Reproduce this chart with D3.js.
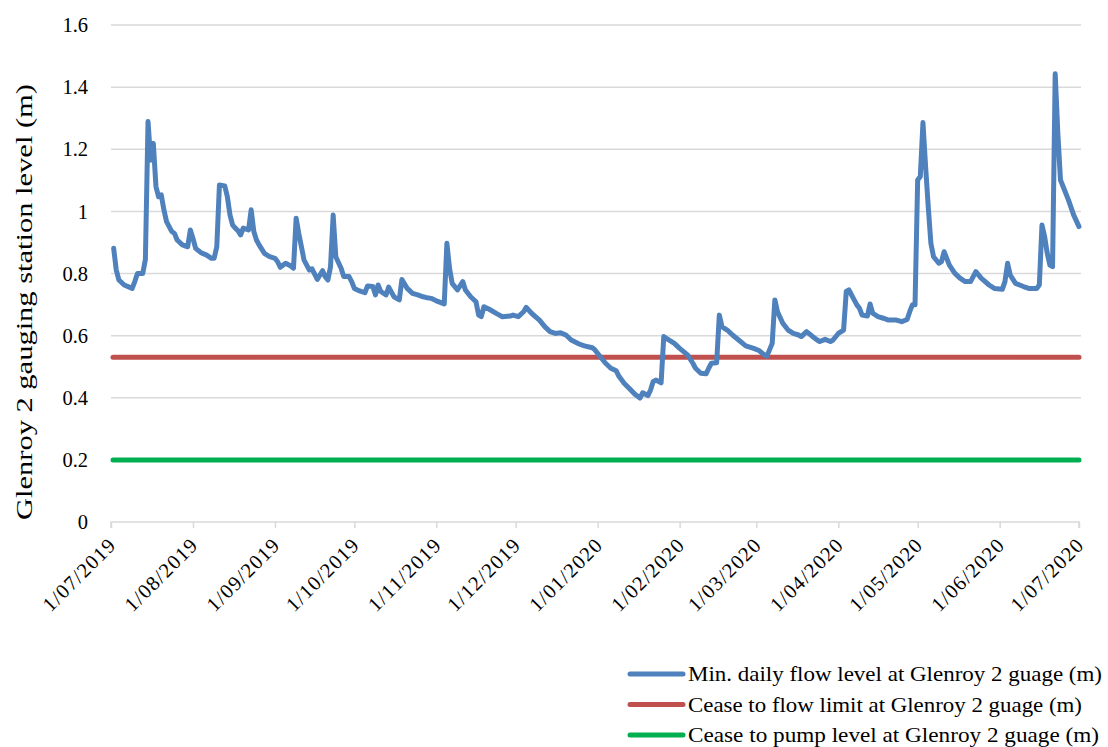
<!DOCTYPE html>
<html><head><meta charset="utf-8">
<script src="https://cdn.jsdelivr.net/npm/d3@7"></script>
<style>body{margin:0;background:#fff} text{font-family:"Liberation Serif",serif;fill:#000}</style>
</head><body><svg id="c" width="1108" height="747"></svg>
<script>
const startDate = "2019-07-01";
const endDate = "2020-07-01";
// days since 1/07/2019
const days = [1,2,3,5,8,9,10,12,13,14,15,16,17,18,19,20,21,23,24,25,27,29,30,31,32,34,36,38,39,40,41,43,44,45,46,47,48,49,50,52,53,54,55,56,58,60,62,63,64,66,68,69,70,71,73,75,76,78,80,81,82,83,84,85,87,88,90,91,92,94,96,97,99,100,101,102,104,105,107,109,110,112,114,116,118,119,121,123,126,127,128,129,131,133,134,136,138,139,140,141,143,146,148,151,152,154,156,157,159,162,164,166,168,170,172,174,177,179,182,183,185,187,189,191,192,194,196,198,200,201,203,204,205,206,208,209,210,213,215,218,220,221,223,225,226,227,229,230,231,232,233,235,238,240,243,245,247,248,250,251,252,254,256,258,260,261,263,265,267,268,270,272,273,275,277,278,279,281,282,283,284,286,287,288,290,292,294,297,299,301,302,303,304,305,306,307,308,309,310,311,313,314,315,317,319,321,323,325,327,329,332,334,337,338,339,340,342,345,347,350,351,352,353,354,355,356,357,358,359,362,364,366];
const levels = [0.881,0.811,0.779,0.763,0.752,0.774,0.80,0.80,0.845,1.289,1.165,1.219,1.08,1.047,1.053,1.005,0.967,0.935,0.929,0.908,0.892,0.886,0.94,0.913,0.881,0.867,0.86,0.849,0.849,0.886,1.085,1.082,1.047,0.988,0.956,0.946,0.938,0.924,0.946,0.94,1.005,0.935,0.908,0.892,0.865,0.854,0.849,0.838,0.82,0.833,0.824,0.817,0.978,0.929,0.843,0.811,0.815,0.781,0.809,0.79,0.779,0.822,0.988,0.854,0.817,0.79,0.79,0.774,0.752,0.744,0.738,0.76,0.758,0.731,0.763,0.742,0.731,0.756,0.725,0.715,0.781,0.752,0.736,0.731,0.725,0.723,0.72,0.712,0.702,0.897,0.817,0.768,0.747,0.774,0.747,0.725,0.709,0.666,0.661,0.693,0.685,0.67,0.661,0.663,0.666,0.661,0.677,0.691,0.672,0.65,0.629,0.613,0.607,0.609,0.602,0.586,0.573,0.567,0.561,0.554,0.532,0.511,0.495,0.487,0.47,0.447,0.43,0.412,0.399,0.416,0.407,0.425,0.452,0.457,0.448,0.597,0.591,0.575,0.559,0.538,0.511,0.495,0.479,0.477,0.495,0.511,0.513,0.666,0.629,0.623,0.618,0.602,0.581,0.567,0.559,0.552,0.538,0.534,0.575,0.715,0.677,0.64,0.618,0.607,0.602,0.597,0.613,0.599,0.586,0.581,0.588,0.581,0.586,0.607,0.618,0.742,0.747,0.715,0.699,0.688,0.666,0.663,0.702,0.672,0.661,0.656,0.65,0.65,0.645,0.652,0.677,0.699,0.699,1.101,1.112,1.286,1.144,1.015,0.897,0.854,0.833,0.838,0.87,0.827,0.801,0.785,0.774,0.774,0.806,0.785,0.763,0.752,0.749,0.774,0.833,0.795,0.768,0.758,0.752,0.752,0.763,0.956,0.919,0.865,0.827,0.822,1.443,1.251,1.101,1.037,0.988,0.951];
const ceaseFlowLevel = 0.53;
const ceasePumpLevel = 0.2;
const yTicks = [0,0.2,0.4,0.6,0.8,1,1.2,1.4,1.6];
const yTickLabels = ["0","0.2","0.4","0.6","0.8","1","1.2","1.4","1.6"];
const xTickDates = ["2019-07-01","2019-08-01","2019-09-01","2019-10-01","2019-11-01","2019-12-01","2020-01-01","2020-02-01","2020-03-01","2020-04-01","2020-05-01","2020-06-01","2020-07-01"];
const xTickLabels = ["1/07/2019","1/08/2019","1/09/2019","1/10/2019","1/11/2019","1/12/2019","1/01/2020","1/02/2020","1/03/2020","1/04/2020","1/05/2020","1/06/2020","1/07/2020"];
const seriesNames = ["Min. daily flow level at Glenroy 2 guage (m)","Cease to flow limit at Glenroy 2 guage (m)","Cease to pump level at Glenroy 2 guage (m)"];
const seriesColors = ["#4F81BD","#C0504D","#00B050"];
const yTitle = "Glenroy 2 gauging station level (m)";
const legendTextWidths = [414, 394, 411];

const svg = d3.select("#c");
const parse = d3.utcParse("%Y-%m-%d");
const t0 = parse(startDate), t1 = parse(endDate);
const x = d3.scaleUtc().domain([t0, t1]).range([111, 1079]);
const y = d3.scaleLinear().domain([0, 1.6]).range([522, 25]);
const FS = 20.5;

// gridlines
svg.append("g").selectAll("line").data(yTicks.filter(v => v > 0)).join("line")
  .attr("x1", 111).attr("x2", 1081).attr("y1", d => y(d)).attr("y2", d => y(d))
  .attr("stroke", "#d9d9d9").attr("stroke-width", 1.5);

// y labels
svg.append("g").selectAll("text").data(yTicks).join("text")
  .attr("x", 88).attr("y", d => y(d)).attr("dy", "0.35em")
  .attr("text-anchor", "end").attr("font-size", FS)
  .text((d, i) => yTickLabels[i]);

// x axis
const tickDates = xTickDates.map(parse);
const xAxis = d3.axisBottom(x).tickValues(tickDates).tickSize(6).tickFormat((d, i) => xTickLabels[i]);
const gx = svg.append("g").attr("transform", `translate(0,${y(0)})`).call(xAxis);
gx.select(".domain").attr("stroke", "#d9d9d9").attr("stroke-width", 1.5).attr("d", `M${x(t0)},6V0H${x(t1)}V6`);
gx.selectAll(".tick line").attr("stroke", "#d9d9d9").attr("stroke-width", 1.5);
gx.selectAll(".tick text").attr("font-size", FS).attr("font-family", "Liberation Serif")
  .attr("text-anchor", "end").attr("fill", "#000")
  .attr("textLength", 93).attr("lengthAdjust", "spacing")
  .attr("transform", "translate(0,20) rotate(-45)").attr("dy", "0.35em").attr("y", 0).attr("x", 0);

// reference lines
const refs = [ceaseFlowLevel, ceasePumpLevel];
svg.append("g").selectAll("line").data(refs).join("line")
  .attr("x1", x(t0) + 2).attr("x2", x(t1)).attr("y1", d => y(d)).attr("y2", d => y(d))
  .attr("stroke", (d, i) => seriesColors[i + 1]).attr("stroke-width", 5).attr("stroke-linecap", "round");

// main line
const pts = days.map((d, i) => [d3.utcDay.offset(t0, d), levels[i]]);
svg.append("path").datum(pts)
  .attr("fill", "none").attr("stroke", seriesColors[0]).attr("stroke-width", 5)
  .attr("stroke-linejoin", "round").attr("stroke-linecap", "round")
  .attr("d", d3.line().x(d => x(d[0])).y(d => y(d[1])));

// y title
svg.append("text").attr("transform", "translate(32,302) rotate(-90)")
  .attr("text-anchor", "middle").attr("font-size", 24)
  .attr("textLength", 436).attr("lengthAdjust", "spacingAndGlyphs").text(yTitle);

// legend
const lg = svg.append("g").selectAll("g").data(seriesNames).join("g")
  .attr("transform", (d, i) => `translate(630,${674 + i * 30.5})`);
lg.append("line").attr("x1", 0).attr("x2", 53).attr("stroke", (d, i) => seriesColors[i])
  .attr("stroke-width", 5).attr("stroke-linecap", "round");
lg.append("text").attr("x", 58).attr("dy", "0.35em").attr("font-size", 21)
  .attr("textLength", (d, i) => legendTextWidths[i]).attr("lengthAdjust", "spacingAndGlyphs").text(d => d);
</script></body></html>
